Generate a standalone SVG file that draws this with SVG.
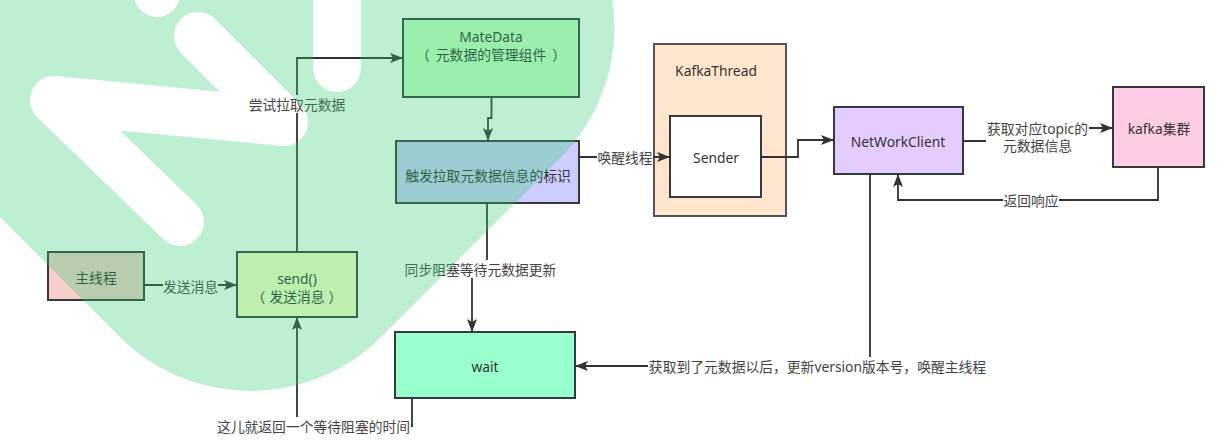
<svg xmlns="http://www.w3.org/2000/svg" width="1226" height="446" viewBox="0 0 1226 446">
<style>
.node{stroke:#36393d;stroke-width:2}
.t{font-family:"Noto Sans","Noto Sans CJK SC",sans-serif;font-size:13.8px;fill:#333;text-anchor:middle;dominant-baseline:central}
.lbl{font-family:"Noto Sans","Noto Sans CJK SC",sans-serif;font-size:13.8px;fill:#444;text-anchor:middle;dominant-baseline:central}
.edge{fill:none;stroke:#333;stroke-width:1.8}
.bg{fill:#fff}
</style>
<defs>
<marker id="arr" markerUnits="userSpaceOnUse" markerWidth="14" markerHeight="11" refX="13" refY="5" orient="auto">
<path d="M0,0 L13,5 L0,10 L3,5 Z" fill="#333"/>
</marker>
<mask id="wmMask" maskUnits="userSpaceOnUse" x="-100" y="-100" width="1426" height="646">
<rect x="-100" y="-100" width="1426" height="646" fill="#fff"/>
<g stroke="#000" stroke-width="48" stroke-linecap="round" stroke-linejoin="round" fill="none">
<path d="M198,36 L284,122 L54,100 L180,222"/>
<path d="M337,-60 V68"/>
</g>
<circle cx="157" cy="-6" r="23" fill="#000"/>
</mask>
</defs>
<rect width="1226" height="446" fill="#fff"/>

<g id="n-main"><rect class="node" x="48" y="252" width="96" height="48" fill="#f8cecc"/><text class="t" x="96" y="277">主线程</text></g>
<g id="n-send"><rect class="node" x="237" y="252" width="120" height="65" fill="#ffffcc"/><text class="t" x="297" y="278">send()</text><text class="t" x="297" y="296">（<tspan dx="4">发送消息</tspan><tspan dx="4">）</tspan></text></g>
<g id="n-matedata"><rect class="node" x="403" y="19" width="176" height="78" fill="#ccffcc"/><text class="t" x="491" y="36">MateData</text><text class="t" x="491" y="54">（<tspan dx="6">元数据的管理组件</tspan><tspan dx="6">）</tspan></text></g>
<g id="n-trigger"><rect class="node" x="396" y="141" width="183" height="62" fill="#ccccff"/><text class="t" x="488" y="175">触发拉取元数据信息的标识</text></g>
<g id="n-wait"><rect class="node" x="395" y="332" width="180" height="66" fill="#99ffcc"/><text class="t" x="485" y="366">wait</text></g>
<g id="n-kafkathread"><rect x="654" y="44" width="132" height="172" fill="#ffe6cc" stroke="#555" stroke-width="2"/><text class="t" x="716" y="70">KafkaThread</text></g>
<g id="n-sender"><rect class="node" x="670" y="116" width="91" height="81" fill="#ffffff"/><text class="t" x="716" y="157">Sender</text></g>
<g id="n-networkclient"><rect class="node" x="834" y="107" width="129" height="67" fill="#e5ccff"/><text class="t" x="898" y="141">NetWorkClient</text></g>
<g id="n-kafka"><rect class="node" x="1113" y="87" width="91" height="80" fill="#ffcce6"/><text class="t" x="1159" y="128">kafka集群</text></g>

<g id="connectors">
<path class="edge" d="M144,285 H237" marker-end="url(#arr)"/>
<path class="edge" d="M297,252 V58 H403" marker-end="url(#arr)"/>
<path class="edge" d="M491.5,97 V118 H488 V141" marker-end="url(#arr)"/>
<path class="edge" d="M579,157 H670" marker-end="url(#arr)"/>
<path class="edge" d="M761,157 H798 V140 H834" marker-end="url(#arr)"/>
<path class="edge" d="M963,141 H1038 V128 H1113" marker-end="url(#arr)"/>
<path class="edge" d="M1158,167 V200 H898 V174" marker-end="url(#arr)"/>
<path class="edge" d="M870,174 V366 H575" marker-end="url(#arr)"/>
<path class="edge" d="M487,203 V269 H472 V332" marker-end="url(#arr)"/>
<path class="edge" d="M412,398 V426 H297 V317" marker-end="url(#arr)"/>

<rect class="bg" x="163" y="277" width="55" height="18"/><text class="lbl" x="190.5" y="286">发送消息</text>
<rect class="bg" x="248" y="95" width="98" height="18"/><text class="lbl" x="297" y="104">尝试拉取元数据</text>
<rect class="bg" x="597" y="148" width="56" height="18"/><text class="lbl" x="625" y="157">唤醒线程</text>
<rect class="bg" x="986" y="119" width="103" height="35"/><text class="lbl" x="1037.5" y="128">获取对应topic的</text><text class="lbl" x="1037.5" y="145">元数据信息</text>
<rect class="bg" x="1003" y="191" width="56" height="18"/><text class="lbl" x="1031" y="200">返回响应</text>
<rect class="bg" x="404" y="260" width="153" height="18"/><text class="lbl" x="480.5" y="269">同步阻塞等待元数据更新</text>
<rect class="bg" x="648" y="357" width="339" height="18"/><text class="lbl" x="817.5" y="366">获取到了元数据以后，更新version版本号，唤醒主线程</text>
<rect class="bg" x="217" y="417" width="194" height="18"/><text class="lbl" x="313.5" y="426">这儿就返回一个等待阻塞的时间</text>
</g>

<g id="watermark" opacity="0.31" mask="url(#wmMask)">
<rect x="-61" y="-284.5" width="623" height="623" rx="185" transform="rotate(45 250.5 27)" fill="#2ecc71"/>
</g>
</svg>
